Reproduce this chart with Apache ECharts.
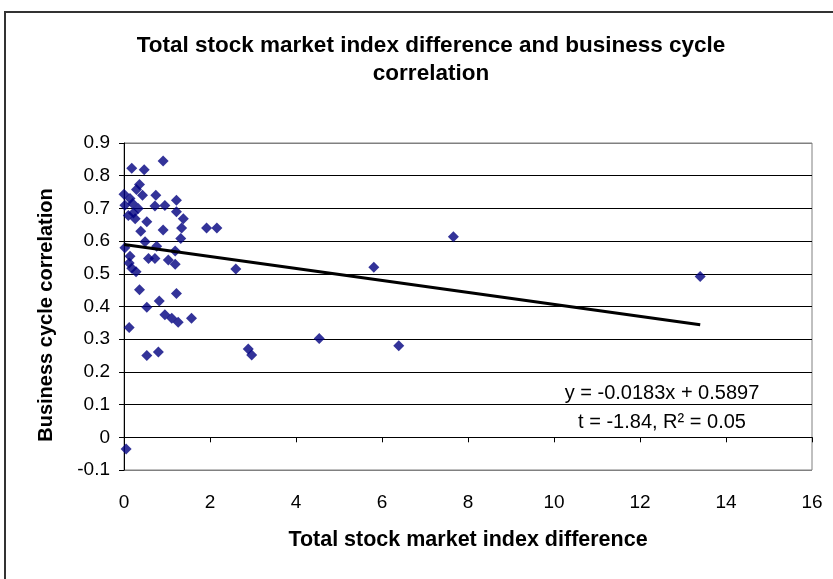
<!DOCTYPE html>
<html>
<head>
<meta charset="utf-8">
<title>Total stock market index difference and business cycle correlation</title>
<script src="https://cdn.jsdelivr.net/npm/echarts@6/dist/echarts.min.js"></script>
<style>
  html, body { margin: 0; padding: 0; background: #fff; }
  #chart { width: 833px; height: 579px; }
</style>
</head>
<body>
<div id="chart"></div>
<script>
// index difference (x) and business cycle correlation (y)
var indexDiff = [
  0.18, 0.47, 0.91, 0.36, 0.29, 0.43, 0.00, 0.14, 0.02, 0.20,
  0.74, 0.72, 0.95, 1.22, 0.33, 0.22, 0.10, 0.26, 1.22, 1.38,
  0.53, 1.34, 0.91, 0.39, 1.92, 2.16, 1.32, 0.49, 0.76, 0.02,
  1.19, 0.14, 0.57, 0.72, 1.03, 1.19, 0.12, 0.18, 0.28, 2.60,
  0.36, 1.22, 0.82, 0.53, 0.95, 1.11, 1.26, 1.57, 0.12, 0.53,
  0.80, 0.05, 2.89, 2.97, 4.54, 5.81, 6.39, 7.66, 13.40
];
var cycleCorr = [
  0.823, 0.818, 0.845, 0.773, 0.758, 0.740, 0.743, 0.730, 0.710, 0.715,
  0.740, 0.707, 0.709, 0.725, 0.700, 0.686, 0.678, 0.668, 0.690, 0.668,
  0.659, 0.640, 0.634, 0.630, 0.640, 0.640, 0.608, 0.598, 0.584, 0.580,
  0.570, 0.554, 0.547, 0.547, 0.542, 0.529, 0.533, 0.517, 0.506, 0.515,
  0.451, 0.440, 0.417, 0.398, 0.375, 0.364, 0.352, 0.364, 0.336, 0.250,
  0.261, -0.036, 0.270, 0.252, 0.302, 0.520, 0.280, 0.613, 0.492
];

// linear trend shown in the chart
var trendSlope = -0.0183;
var trendIntercept = 0.5897;
var trendRange = [0, 13.4];

var titleLines = ["Total stock market index difference and business cycle", "correlation"];
var noteLines = ["y = -0.0183x + 0.5897", "t = -1.84, R\u00b2 = 0.05"];
var yName = "Business cycle correlation";

var font = "Liberation Sans, Arial, sans-serif";

var chart = echarts.init(document.getElementById("chart"));

var points = indexDiff.map(function (x, i) {
  return [x, cycleCorr[i]];
});
var trend = trendRange.map(function (x) {
  return [x, trendIntercept + trendSlope * x];
});

// gray frame lines at -0.1 and 0.9, black gridlines in between
var gridColors = ["#808080", "#000", "#000", "#000", "#000", "#000", "#000", "#000", "#000", "#000", "#808080"];

function label(text, x, y, size, bold, rotation) {
  return {
    type: "text",
    x: x,
    y: y,
    z: 100,
    rotation: rotation || 0,
    style: {
      text: text,
      font: (bold ? "bold " : "") + size + "px " + font,
      fill: "#000",
      textAlign: "center",
      textVerticalAlign: "middle",
    },
  };
}

chart.setOption({
  animation: false,
  backgroundColor: "#fff",
  textStyle: { fontFamily: font },
  grid: {
    left: 124,
    right: 21,
    top: 143,
    bottom: 109,
    show: true,
    borderColor: "#808080",
    borderWidth: 1,
  },
  graphic: [
    {
      type: "rect",
      shape: { x: 5, y: 12, width: 860, height: 620 },
      style: { fill: null, stroke: "#333", lineWidth: 2 },
      silent: true,
    },
    label(titleLines[0], 431, 46, 22.5, true),
    label(titleLines[1], 431, 74, 22.5, true),
    label(noteLines[0], 662, 393, 20, false),
    label(noteLines[1], 662, 422, 20, false),
    label(yName, 46, 315, 20, true, Math.PI / 2),
  ],
  xAxis: {
    type: "value",
    min: 0,
    max: 16,
    interval: 2,
    name: "Total stock market index difference",
    nameLocation: "middle",
    nameGap: 59,
    nameTextStyle: { color: "#000", fontSize: 21.5, fontWeight: "bold" },
    axisLine: { show: true, onZero: true, lineStyle: { color: "#000", width: 1 } },
    axisTick: { show: true, length: 5, lineStyle: { color: "#000" } },
    axisLabel: { color: "#000", fontSize: 19, margin: 23 },
    splitLine: { show: false },
  },
  yAxis: {
    type: "value",
    min: -0.1,
    max: 0.9,
    interval: 0.1,
    axisLine: { show: true, lineStyle: { color: "#000", width: 1 } },
    axisTick: { show: true, length: 5, lineStyle: { color: "#000" } },
    axisLabel: {
      color: "#000",
      fontSize: 19,
      margin: 14,
      formatter: function (v) {
        return String(parseFloat(v.toFixed(1)));
      },
    },
    splitLine: { show: true, lineStyle: { color: gridColors, width: 1 } },
  },
  series: [
    {
      type: "scatter",
      data: points,
      symbol: "diamond",
      symbolSize: 11,
      itemStyle: { color: "#000080" },
    },
    {
      type: "line",
      data: trend,
      symbol: "none",
      lineStyle: { color: "#000", width: 3 },
      z: 3,
    },
  ],
});
</script>
</body>
</html>
